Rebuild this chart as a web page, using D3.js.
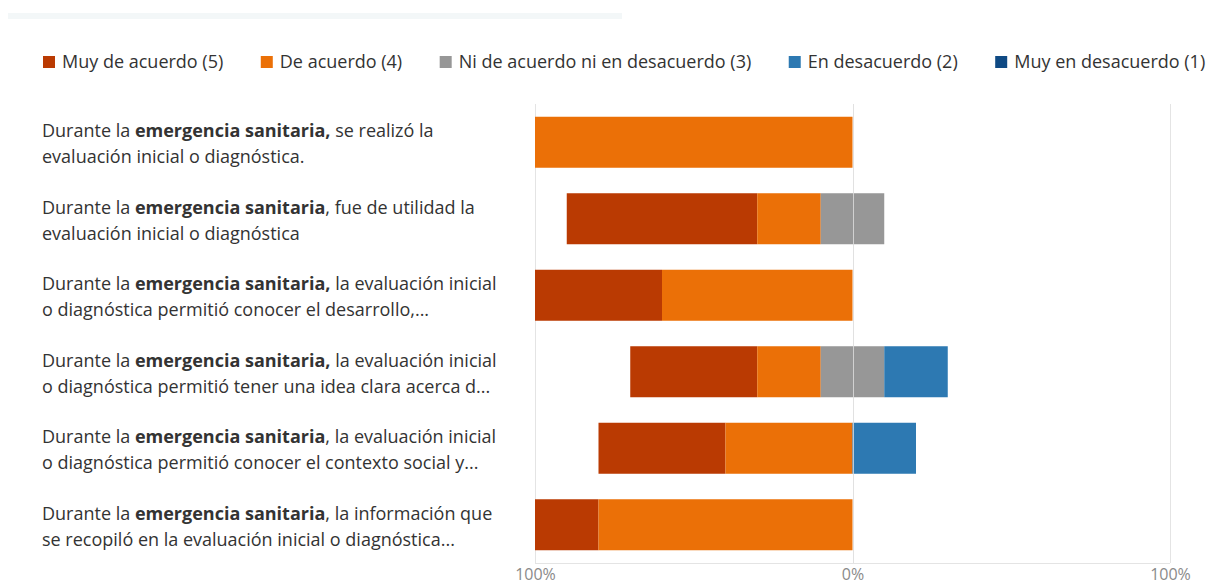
<!DOCTYPE html>
<html>
    <head>
        <meta charset="UTF-8" />
        <title>Evaluación inicial o diagnóstica</title>
        <script src="https://d3js.org/d3.v7.min.js"></script>
        <style>
body {
    margin: 0px;
    background: #fff;
}
svg {
    font-family: "Segoe UI", "Open Sans", sans-serif;
}
        </style>
    </head>
    <body>
        <svg id="chart" width="1210" height="586"></svg>
<script>
// answer categories (legend order) and their colours
const series = ["Muy de acuerdo (5)", "De acuerdo (4)", "Ni de acuerdo ni en desacuerdo (3)", "En desacuerdo (2)", "Muy en desacuerdo (1)"];
const colors = ["#ba3a02", "#eb7007", "#979797", "#2d79b2", "#0f4a84"];

// question labels: plain start, bold part, rest of line 1, line 2
const labelStart = ["Durante la ", "Durante la ", "Durante la ", "Durante la ", "Durante la ", "Durante la "];
const labelBold = ["emergencia sanitaria,", "emergencia sanitaria", "emergencia sanitaria,", "emergencia sanitaria,", "emergencia sanitaria", "emergencia sanitaria"];
const labelRest = [" se realizó la", ", fue de utilidad la", " la evaluación inicial", " la evaluación inicial", ", la evaluación inicial", ", la información que"];
const labelLine2 = [
    "evaluación inicial o diagnóstica.",
    "evaluación inicial o diagnóstica",
    "o diagnóstica permitió conocer el desarrollo,...",
    "o diagnóstica permitió tener una idea clara acerca d...",
    "o diagnóstica permitió conocer el contexto social y...",
    "se recopiló en la evaluación inicial o diagnóstica..."
];

// percentages per answer, one value per question
const muyDeAcuerdo = [0, 60, 40, 40, 40, 20];
const deAcuerdo = [100, 20, 60, 20, 40, 80];
const neutral = [0, 20, 0, 20, 0, 0];
const enDesacuerdo = [0, 0, 0, 20, 20, 0];
const muyEnDesacuerdo = [0, 0, 0, 0, 0, 0];

const tickValues = [-100, 0, 100];

let svg = d3.select("#chart");

// faint strip at the very top
svg.append("rect")
    .attr("x", 8).attr("y", 13)
    .attr("width", 614).attr("height", 6)
    .attr("fill", "#f3f7f8");

let x = d3.scaleLinear().domain([-100, 100]).range([535, 1170]);
let y = d3.scaleBand().domain(d3.range(labelLine2.length)).range([104, 563])
    .paddingInner(1 / 3).paddingOuter(1 / 6);

// build the segments: left edge starts at -(5 + 4 + half of 3)
let values = [muyDeAcuerdo, deAcuerdo, neutral, enDesacuerdo, muyEnDesacuerdo];
let segments = [];
labelLine2.forEach((_, i) => {
    let start = -(muyDeAcuerdo[i] + deAcuerdo[i] + neutral[i] / 2);
    values.forEach((vals, s) => {
        if (vals[i] > 0) {
            segments.push({row: i, s: s, x0: start, x1: start + vals[i]});
        }
        start += vals[i];
    });
});

// grid
let grid = svg.append("g").attr("stroke", "#e4e4e4").attr("stroke-width", 1);
grid.selectAll("line.v")
    .data(tickValues)
    .join("line")
    .attr("class", "v")
    .attr("x1", d => Math.round(x(d)) + 0.5).attr("x2", d => Math.round(x(d)) + 0.5)
    .attr("y1", 104).attr("y2", 563);
grid.append("line")
    .attr("x1", x(-100)).attr("x2", x(100))
    .attr("y1", 563.5).attr("y2", 563.5);

// bars
svg.append("g")
    .selectAll("rect")
    .data(segments)
    .join("rect")
    .attr("x", d => x(d.x0))
    .attr("width", d => x(d.x1) - x(d.x0))
    .attr("y", d => y(d.row))
    .attr("height", y.bandwidth())
    .attr("fill", d => colors[d.s]);

// zero line drawn over bars
svg.append("line")
    .attr("x1", Math.round(x(0)) + 0.5).attr("x2", Math.round(x(0)) + 0.5)
    .attr("y1", 104).attr("y2", 563)
    .attr("stroke", "#e0e0e0").attr("stroke-opacity", 0.8);

// x axis
let xAxis = d3.axisBottom(x)
    .tickValues(tickValues)
    .tickSize(0)
    .tickFormat(d => Math.abs(d) + "%");
let axisG = svg.append("g")
    .call(xAxis);
axisG.select(".domain").remove();
axisG.selectAll("text")
    .attr("y", 580)
    .attr("dy", null)
    .attr("font-size", 16)
    .attr("fill", "#8a8a8a")
    .attr("font-family", "'Segoe UI', 'Open Sans', sans-serif");

// question labels
let labels = svg.append("g").attr("font-size", 18).attr("fill", "#333");
labelLine2.forEach((line2, i) => {
    let cy = y(i) + y.bandwidth() / 2;
    let t1 = labels.append("text").attr("x", 42).attr("y", cy - 5);
    t1.append("tspan").text(labelStart[i]);
    t1.append("tspan").attr("font-weight", "bold").text(labelBold[i]);
    t1.append("tspan").text(labelRest[i]);
    labels.append("text").attr("x", 42).attr("y", cy + 21).text(line2);
});

// legend
let legend = svg.append("g").attr("font-size", 18).attr("fill", "#333");
let lx = 43;
series.forEach((name, i) => {
    let item = legend.append("g").attr("transform", `translate(${lx},0)`);
    item.append("rect")
        .attr("x", 0).attr("y", 56)
        .attr("width", 12).attr("height", 12)
        .attr("fill", colors[i]);
    let t = item.append("text").attr("x", 19).attr("y", 68).text(name);
    lx += 19 + t.node().getComputedTextLength() + 37.5;
});
</script>
    </body>
</html>
